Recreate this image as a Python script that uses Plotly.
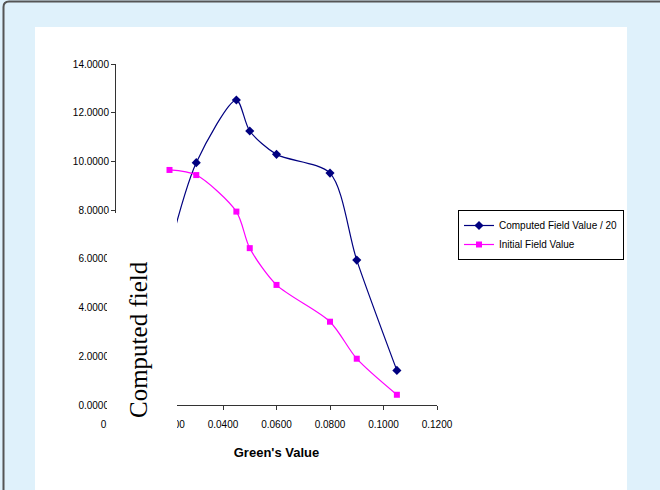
import plotly.graph_objects as go

# Green's value on the x axis, shared by both series
greens_value = [0.02, 0.03, 0.045, 0.05, 0.06, 0.08, 0.09, 0.105]
computed_over_20 = [6.4, 9.95, 12.52, 11.25, 10.29, 9.52, 5.95, 1.42]
initial_field = [9.65, 9.44, 7.94, 6.44, 4.93, 3.42, 1.90, 0.42]

y_ticks = [0, 2, 4, 6, 8, 10, 12, 14]
y_tick_text = [f"{v:.4f}" for v in y_ticks]

W, H = 660, 490
L, R, T, B = 116, 437, 64, 405  # plot area in pixels


def px(x):
    return (x - L) / (R - L)


def py(y):
    return (B - y) / (B - T)


fig = go.Figure()

fig.add_trace(go.Scatter(
    x=greens_value, y=computed_over_20, name="Computed Field Value / 20",
    mode="lines+markers", line=dict(color="#000080", width=1.2, shape="spline", smoothing=0.8),
    marker=dict(symbol="diamond", size=7, color="#000080"),
))
fig.add_trace(go.Scatter(
    x=greens_value, y=initial_field, name="Initial Field Value",
    mode="lines+markers", line=dict(color="#ff00ff", width=1.2, shape="spline", smoothing=0.8),
    marker=dict(symbol="square", size=6, color="#ff00ff"),
))

shapes = [
    # white chart area on the light blue frame
    dict(type="rect", xref="paper", yref="paper", layer="below",
         x0=px(35), x1=px(627), y0=py(27), y1=py(495),
         fillcolor="white", line=dict(width=0)),
    # outer frame edge with a rounded corner
    dict(type="path", xref="paper", yref="paper", layer="below",
         path=(f"M {px(3.5)},{py(495)} L {px(3.5)},{py(7)} "
               f"Q {px(3.5)},{py(1.5)} {px(9)},{py(1.5)} L {px(665)},{py(1.5)}"),
         line=dict(color="#555555", width=2)),
    # white box behind the y axis title
    dict(type="rect", xref="paper", yref="paper", layer="above",
         x0=px(107), x1=px(177), y0=py(213), y1=py(440),
         fillcolor="white", line=dict(width=0)),
]

fig.update_layout(
    width=W, height=H, autosize=False,
    margin=dict(l=L, r=W - R, t=T, b=H - B, pad=0),
    paper_bgcolor="rgb(223,241,251)", plot_bgcolor="white",
    font=dict(family="Liberation Sans, Arial, sans-serif", size=10, color="#000"),
    shapes=shapes,
    showlegend=True,
    legend=dict(x=px(458), y=py(210), xanchor="left", yanchor="top",
                bgcolor="white", bordercolor="#000", borderwidth=1,
                font=dict(size=10), itemwidth=30, tracegroupgap=0),
    xaxis=dict(range=[0, 0.12], tickvals=[0, 0.02, 0.04, 0.06, 0.08, 0.1, 0.12],
               tickformat=".4f", showgrid=False, zeroline=False,
               showline=True, linecolor="#333", linewidth=1,
               ticks="outside", ticklen=4, tickcolor="#333", ticklabelstandoff=6,
               title=dict(text="<b>Green's Value</b>", font=dict(size=13), standoff=18)),
    yaxis=dict(range=[0, 14], tickvals=y_ticks, ticktext=y_tick_text,
               showgrid=False, zeroline=False,
               showline=True, linecolor="#333", linewidth=1,
               ticks="outside", ticklen=4, tickcolor="#333"),
    annotations=[dict(
        text="Computed field", textangle=-90, xref="paper", yref="paper",
        x=px(138), y=py(340), xanchor="center", yanchor="middle", showarrow=False,
        font=dict(family="Liberation Serif, Times New Roman, serif", size=25, color="#000"),
    )],
)

fig.write_html("out.html")
